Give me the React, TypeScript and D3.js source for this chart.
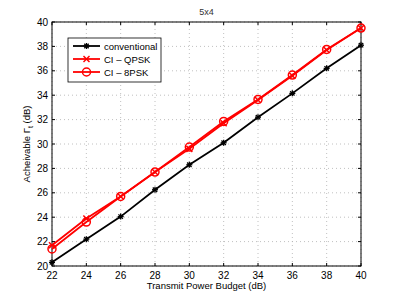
import * as d3 from "d3";

const power = [22, 24, 26, 28, 30, 32, 34, 36, 38, 40];
const conventional = [20.3, 22.2, 24.05, 26.25, 28.3, 30.1, 32.2, 34.15, 36.2, 38.1];
const ciQpsk = [21.7, 23.9, 25.7, 27.7, 29.6, 31.7, 33.6, 35.6, 37.7, 39.5];
const ci8psk = [21.4, 23.6, 25.7, 27.7, 29.75, 31.85, 33.65, 35.65, 37.75, 39.5];
const xTicks = [22, 24, 26, 28, 30, 32, 34, 36, 38, 40];
const yTicks = [20, 22, 24, 26, 28, 30, 32, 34, 36, 38, 40];

const W = 399;
const H = 300;
const M = { top: 22, right: 38, bottom: 34, left: 52 };

const font = "Liberation Sans, Arial, sans-serif";

const Star = ({ x, y, color }: { x: number; y: number; color: string }) => (
  <g stroke={color} strokeWidth={1.3}>
    <line x1={x - 3} y1={y} x2={x + 3} y2={y} />
    <line x1={x} y1={y - 3} x2={x} y2={y + 3} />
    <line x1={x - 2.2} y1={y - 2.2} x2={x + 2.2} y2={y + 2.2} />
    <line x1={x - 2.2} y1={y + 2.2} x2={x + 2.2} y2={y - 2.2} />
  </g>
);

const Cross = ({ x, y, color }: { x: number; y: number; color: string }) => (
  <g stroke={color} strokeWidth={1.5}>
    <line x1={x - 3} y1={y - 3} x2={x + 3} y2={y + 3} />
    <line x1={x - 3} y1={y + 3} x2={x + 3} y2={y - 3} />
  </g>
);

const Ring = ({ x, y, color }: { x: number; y: number; color: string }) => (
  <circle cx={x} cy={y} r={4} fill="none" stroke={color} strokeWidth={1.5} />
);

export default function App() {
  const x = d3.scaleLinear().domain([22, 40]).range([M.left, W - M.right]);
  const y = d3.scaleLinear().domain([20, 40]).range([H - M.bottom, M.top]);

  const line = d3
    .line<number>()
    .x((_, i) => x(power[i]))
    .y((d) => y(d));

  const series = [
    { name: "conventional", data: conventional, color: "#000", Marker: Star },
    { name: "CI \u2013 QPSK", data: ciQpsk, color: "#ff0000", Marker: Cross },
    { name: "CI \u2013 8PSK", data: ci8psk, color: "#ff0000", Marker: Ring },
  ];

  const x0 = M.left;
  const x1 = W - M.right;
  const y0 = H - M.bottom;
  const y1 = M.top;

  return (
    <svg
      width={W}
      height={H}
      style={{ position: "absolute", left: 0, top: 0, background: "#fff" }}
      fontFamily={font}
    >
      <rect x={0} y={0} width={W} height={H} fill="#fff" />
      {/* grid */}
      {xTicks.map((t) => (
        <line key={"gx" + t} x1={x(t)} x2={x(t)} y1={y0} y2={y1} stroke="#b0b0b0" strokeWidth={0.8} strokeDasharray="1,3" />
      ))}
      {yTicks.map((t) => (
        <line key={"gy" + t} x1={x0} x2={x1} y1={y(t)} y2={y(t)} stroke="#b0b0b0" strokeWidth={0.8} strokeDasharray="1,3" />
      ))}
      {/* frame */}
      <rect x={x0} y={y1} width={x1 - x0} height={y0 - y1} fill="none" stroke="#000" strokeWidth={1} />
      {/* ticks */}
      {xTicks.map((t) => (
        <g key={"tx" + t}>
          <line x1={x(t)} x2={x(t)} y1={y0} y2={y0 - 3} stroke="#000" />
          <line x1={x(t)} x2={x(t)} y1={y1} y2={y1 + 3} stroke="#000" />
          <text x={x(t)} y={y0 + 13} textAnchor="middle" fontSize={10} fill="#000">
            {t}
          </text>
        </g>
      ))}
      {yTicks.map((t) => (
        <g key={"ty" + t}>
          <line x1={x0} x2={x0 + 3} y1={y(t)} y2={y(t)} stroke="#000" />
          <line x1={x1} x2={x1 - 3} y1={y(t)} y2={y(t)} stroke="#000" />
          <text x={x0 - 4} y={y(t) + 3.5} textAnchor="end" fontSize={10} fill="#000">
            {t}
          </text>
        </g>
      ))}
      {/* series */}
      {series.map((s) => (
        <g key={s.name}>
          <path d={line(s.data) || ""} fill="none" stroke={s.color} strokeWidth={1.8} />
          {s.data.map((v, i) => (
            <s.Marker key={i} x={x(power[i])} y={y(v)} color={s.color} />
          ))}
        </g>
      ))}
      {/* legend */}
      <rect x={68} y={38} width={93} height={44} fill="#fff" stroke="#000" strokeWidth={0.8} />
      {series.map((s, i) => {
        const ly = 46 + i * 13;
        return (
          <g key={"lg" + s.name}>
            <line x1={73} x2={100} y1={ly} y2={ly} stroke={s.color} strokeWidth={1.8} />
            <s.Marker x={86.5} y={ly} color={s.color} />
            <text x={104} y={ly + 3.5} fontSize={9.5} fill="#000">
              {s.name}
            </text>
          </g>
        );
      })}
      {/* title and labels */}
      <text x={(x0 + x1) / 2} y={15} textAnchor="middle" fontSize={9} fill="#333">
        5x4
      </text>
      <text x={(x0 + x1) / 2} y={289} textAnchor="middle" fontSize={9.5} fill="#000">
        Transmit Power Budget (dB)
      </text>
      <text transform={`translate(30,${(y0 + y1) / 2}) rotate(-90)`} textAnchor="middle" fontSize={9.5} fill="#000">
        Acheivable {"\u0393"}
        <tspan fontSize={7} dy={3}>t</tspan>
        <tspan dy={-3}> (dB)</tspan>
      </text>
    </svg>
  );
}
